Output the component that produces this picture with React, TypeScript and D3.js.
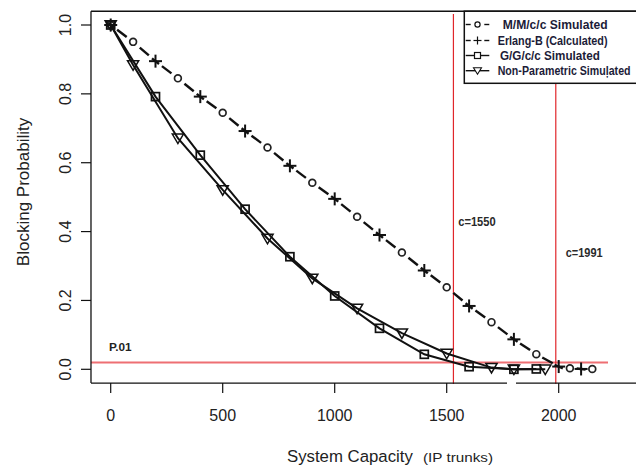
import React, { useLayoutEffect, useRef, useState } from "react";
import * as d3 from "d3";

const mmX = [0, 100, 300, 500, 700, 900, 1100, 1300, 1500, 1700, 1900, 2050, 2150];
const mmY = [1.0, 0.951, 0.845, 0.745, 0.644, 0.542, 0.443, 0.339, 0.238, 0.137, 0.044, 0.003, 0.001];
const erX = [0, 200, 400, 600, 800, 1000, 1200, 1400, 1600, 1800, 2000, 2100];
const erY = [1.0, 0.895, 0.792, 0.692, 0.591, 0.495, 0.39, 0.287, 0.184, 0.087, 0.008, 0.001];
const ggX = [0, 200, 400, 600, 800, 1000, 1200, 1400, 1600, 1800, 1900];
const ggY = [1.0, 0.792, 0.622, 0.465, 0.327, 0.213, 0.119, 0.0435, 0.0076, 0.0, 0.001];
const npX = [0, 100, 300, 500, 700, 900, 1100, 1300, 1500, 1700, 1800, 1940];
const npY = [1.0, 0.884, 0.671, 0.521, 0.38, 0.264, 0.177, 0.105, 0.046, 0.005, 0.0, 0.0];

const xTicks = [0, 500, 1000, 1500, 2000];
const yTicks = [0, 0.2, 0.4, 0.6, 0.8, 1.0];
const refP = 0.02;
const refC = [1530, 1987];
const refCLabels = ["c=1550", "c=1991"];
const legendLabels = ["M/M/c/c Simulated", "Erlang-B (Calculated)", "G/G/c/c Simulated", "Non-Parametric Simuļated"];

const W = 636, H = 466;
const x = d3.scaleLinear().domain([0, 2000]).range([110.7, 558.7]);
const y = d3.scaleLinear().domain([0, 1]).range([369.3, 25]);
const left = x(-88), bottom = y(-0.04), top = y(1.04), right = W;

const zip = (a: number[], b: number[]) => a.map((v, i) => [x(v), y(b[i])] as [number, number]);
const mm = zip(mmX, mmY);
const er = zip(erX, erY);
const gg = zip(ggX, ggY);
const np = zip(npX, npY);

const font = "Liberation Sans, Arial, sans-serif";

function FitText(props: { x: number; y: number; w: number; size: number; bold?: boolean; fill: string; children: string }) {
  const ref = useRef<SVGTextElement>(null);
  const [sx, setSx] = useState(1);
  useLayoutEffect(() => {
    if (ref.current) {
      const n = ref.current.getComputedTextLength();
      if (n > 0) setSx(props.w / n);
    }
  }, [props.w, props.children]);
  return (
    <text
      ref={ref}
      transform={`translate(${props.x},${props.y}) scale(${sx},1)`}
      fontFamily={font}
      fontSize={props.size}
      fontWeight={props.bold ? "bold" : "normal"}
      fill={props.fill}
    >
      {props.children}
    </text>
  );
}

function Circle({ p }: { p: [number, number] }) {
  return <circle cx={p[0]} cy={p[1]} r={3.4} fill="none" stroke="#222" strokeWidth={1.7} />;
}
function Plus({ p }: { p: [number, number] }) {
  const s = 6.5;
  return (
    <g stroke="#111" strokeWidth={2}>
      <line x1={p[0] - s} x2={p[0] + s} y1={p[1]} y2={p[1]} />
      <line x1={p[0]} x2={p[0]} y1={p[1] - s} y2={p[1] + s} />
    </g>
  );
}
function Square({ p }: { p: [number, number] }) {
  return <rect x={p[0] - 4} y={p[1] - 4} width={8} height={8} fill="none" stroke="#111" strokeWidth={1.7} />;
}
function Tri({ p }: { p: [number, number] }) {
  const s = 5.6;
  return (
    <path
      d={`M${p[0] - s},${p[1] - s * 0.75}L${p[0] + s},${p[1] - s * 0.75}L${p[0]},${p[1] + s * 0.95}Z`}
      fill="none"
      stroke="#111"
      strokeWidth={1.5}
    />
  );
}

const merged = [...mm.map((p) => ({ p, t: "c" })), ...er.map((p) => ({ p, t: "p" }))].sort(
  (a, b) => a.p[0] - b.p[0]
);
const dashSegs: [number, number, number, number][] = [];
for (let i = 0; i < merged.length - 1; i++) {
  const a = merged[i].p, b = merged[i + 1].p;
  const dx = b[0] - a[0], dy = b[1] - a[1];
  const len = Math.hypot(dx, dy);
  if (len < 14) continue;
  const ux = dx / len, uy = dy / len;
  const dl = Math.min(12, len - 12);
  const s = (len - dl) / 2;
  dashSegs.push([a[0] + ux * s, a[1] + uy * s, a[0] + ux * (s + dl), a[1] + uy * (s + dl)]);
}
const plusThrough: [number, number, number, number][] = er.map((p, i) => {
  const q = er[Math.min(i + 1, er.length - 1)];
  const o = er[Math.max(i - 1, 0)];
  const dx = q[0] - o[0], dy = q[1] - o[1];
  const len = Math.hypot(dx, dy) || 1;
  return [p[0] - (dx / len) * 4.5, p[1] - (dy / len) * 4.5, p[0] + (dx / len) * 4.5, p[1] + (dy / len) * 4.5];
});

const line = d3.line();

export default function App() {
  const legRows = [24.5, 40.5, 55.5, 70.7];
  const legTextX = [502.7, 497.7, 500, 497.7];
  const legTextW = [105, 110, 100, 133];
  const lx0 = 465.7, lx1 = 489.3, lxc = (lx0 + lx1) / 2;
  return (
    <svg width={W} height={H} style={{ position: "absolute", left: 0, top: 0, background: "#fff" }}>
      <rect x={0} y={0} width={W} height={H} fill="#fff" />
      <line x1={left} x2={608} y1={y(refP)} y2={y(refP)} stroke="#ee6f73" strokeWidth={2} />
      {refC.map((c, i) => (
        <line key={i} x1={x(c)} x2={x(c)} y1={14} y2={bottom + 1} stroke="#e0262b" strokeWidth={1.2} />
      ))}
      <g stroke="#111" strokeWidth={2.4}>
        {dashSegs.map((s, i) => (
          <line key={i} x1={s[0]} y1={s[1]} x2={s[2]} y2={s[3]} />
        ))}
        {plusThrough.map((s, i) => (
          <line key={"t" + i} x1={s[0]} y1={s[1]} x2={s[2]} y2={s[3]} />
        ))}
      </g>
      {mm.map((p, i) => (
        <Circle key={"c" + i} p={p} />
      ))}
      {er.map((p, i) => (
        <Plus key={"p" + i} p={p} />
      ))}
      <path d={line(gg) || ""} fill="none" stroke="#111" strokeWidth={2} />
      <path d={line(np) || ""} fill="none" stroke="#111" strokeWidth={2} />
      {gg.map((p, i) => (
        <Square key={"s" + i} p={p} />
      ))}
      {np.map((p, i) => (
        <Tri key={"v" + i} p={p} />
      ))}
      <line x1={left} x2={right} y1={top} y2={top} stroke="#111" strokeWidth={1.3} />
      <line x1={left} x2={left} y1={top} y2={bottom} stroke="#111" strokeWidth={1.3} />
      <line x1={left} x2={507} y1={bottom} y2={bottom} stroke="#111" strokeWidth={1.3} />
      <line x1={516} x2={right} y1={bottom} y2={bottom} stroke="#111" strokeWidth={1.3} />
      {xTicks.map((t) => (
        <g key={t}>
          <line x1={x(t)} x2={x(t)} y1={bottom} y2={bottom + 10} stroke="#111" strokeWidth={1.2} />
          <text x={x(t)} y={421} textAnchor="middle" fontFamily={font} fontSize={16} fill="#222">
            {t}
          </text>
        </g>
      ))}
      {yTicks.map((t) => (
        <g key={t}>
          <line x1={left - 10} x2={left} y1={y(t)} y2={y(t)} stroke="#111" strokeWidth={1.2} />
          <text transform={`translate(71,${y(t)}) rotate(-90)`} textAnchor="middle" fontFamily={font} fontSize={16} fill="#222">
            {t.toFixed(1)}
          </text>
        </g>
      ))}
      <text transform={`translate(29,192) rotate(-90)`} textAnchor="middle" fontFamily={font} fontSize={17} fill="#222">
        Blocking Probability
      </text>
      <FitText x={287} y={462} w={126} size={16.5} fill="#222">System Capacity</FitText>
      <FitText x={423} y={462} w={70} size={13} fill="#222">(IP trunks)</FitText>
      <FitText x={109} y={351} w={22.7} size={11} bold fill="#222">P.01</FitText>
      <FitText x={458.3} y={226} w={37.4} size={12} bold fill="#2a2a2a">{refCLabels[0]}</FitText>
      <FitText x={565.7} y={256.5} w={37} size={12} bold fill="#2a2a2a">{refCLabels[1]}</FitText>
      <rect x={464.3} y={top} width={300} height={83.3 - top} fill="#fff" stroke="#111" strokeWidth={1.5} />
      {legRows.map((ly, i) => (
        <g key={i}>
          {i < 2 ? (
            <g stroke="#111" strokeWidth={1.4}>
              <line x1={lx0} x2={lx0 + 5} y1={ly} y2={ly} />
              <line x1={lx1 - 5} x2={lx1} y1={ly} y2={ly} />
            </g>
          ) : (
            <line x1={lx0} x2={lx1} y1={ly} y2={ly} stroke="#111" strokeWidth={1.4} />
          )}
          {i === 0 && <circle cx={lxc} cy={ly} r={2.6} fill="none" stroke="#111" strokeWidth={1.2} />}
          {i === 1 && (
            <g stroke="#111" strokeWidth={1.2}>
              <line x1={lxc - 4} x2={lxc + 4} y1={ly} y2={ly} />
              <line x1={lxc} x2={lxc} y1={ly - 4} y2={ly + 4} />
            </g>
          )}
          {i === 2 && <rect x={lxc - 3} y={ly - 3} width={6} height={6} fill="#fff" stroke="#111" strokeWidth={1.2} />}
          {i === 3 && (
            <path d={`M${lxc - 4},${ly - 3}L${lxc + 4},${ly - 3}L${lxc},${ly + 3.5}Z`} fill="#fff" stroke="#111" strokeWidth={1.1} />
          )}
          <FitText x={legTextX[i]} y={ly + 4.5} w={legTextW[i]} size={12.5} bold fill="#1c1c38">
            {legendLabels[i]}
          </FitText>
        </g>
      ))}
    </svg>
  );
}
